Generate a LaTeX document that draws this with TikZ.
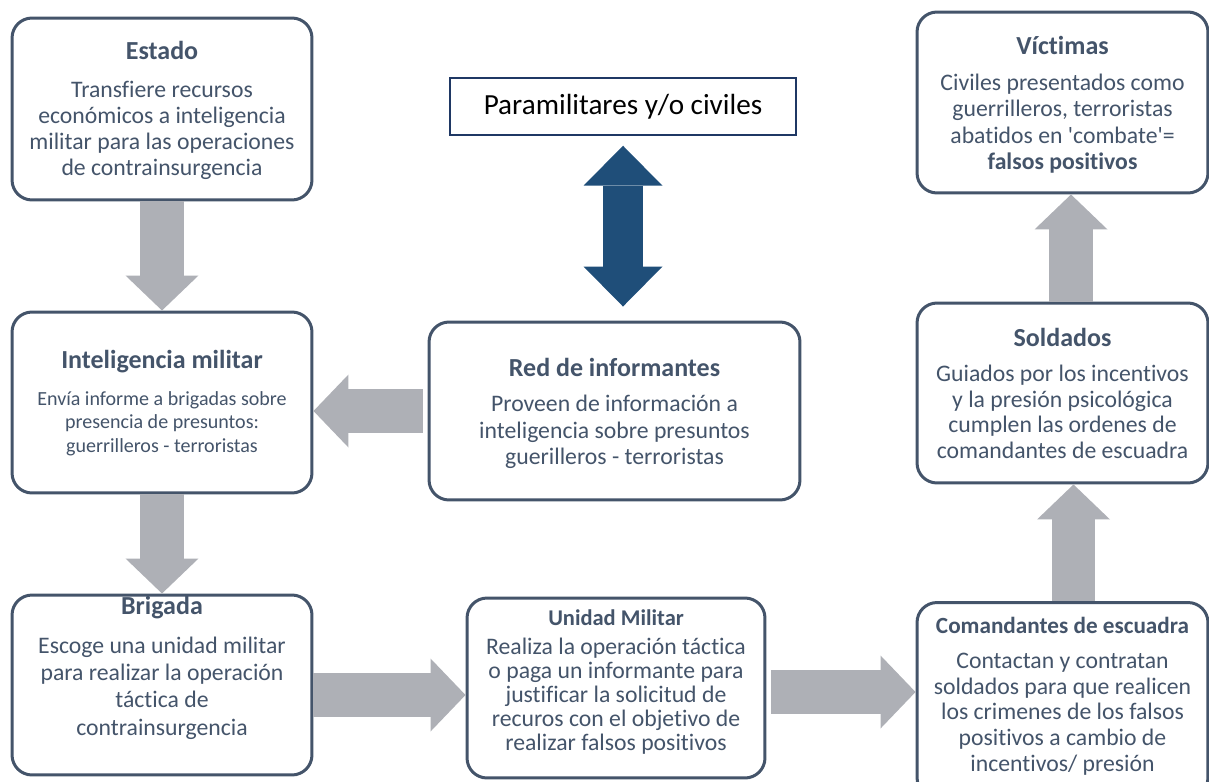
\documentclass[tikz,border=0pt]{standalone}
\usepackage{fontspec}
\setmainfont[Ligatures={NoCommon}]{Carlito}
\usetikzlibrary{arrows.meta}

\definecolor{borde}{HTML}{44546A}
\definecolor{grisflecha}{HTML}{AEB0B6}
\definecolor{azulflecha}{HTML}{1F4E79}
\definecolor{marino}{HTML}{1F3864}

\tikzset{
  caja/.style={draw=borde, line width=0.06cm, rounded corners=0.4cm, fill=white, inner sep=0pt},
  titulo/.style={text=borde, font=\bfseries\fontsize{14.8}{16}\selectfont, inner sep=0pt},
  cuerpo/.style={text=borde, align=center, font=\fontsize{13.5}{14.6}\selectfont, inner sep=0pt},
  flechagris/.style={draw=grisflecha, line width=0.87cm, -{Triangle[width=1.46cm,length=0.7cm,line width=0pt]}},
}

\begin{document}
\begin{tikzpicture}[x=0.02cm,y=-0.02cm]
    \clip (0,0) rectangle (1209,781);

    % Cajas
    \node[caja, minimum width=6cm, minimum height=3.64cm] (estado) at (162,109) {};
    \node[caja, minimum width=6cm, minimum height=3.62cm] (intel) at (162,402.5) {};
    \node[caja, minimum width=6cm, minimum height=3.6cm] (brigada) at (162,685) {};
    \node[caja, minimum width=7.42cm, minimum height=3.56cm] (red) at (614.5,411) {};
    \node[caja, minimum width=5.96cm, minimum height=3.6cm] (unidad) at (616,688) {};
    \node[caja, minimum width=5.82cm, minimum height=3.62cm] (victimas) at (1062.5,102.5) {};
    \node[caja, minimum width=5.82cm, minimum height=3.6cm] (soldados) at (1062.5,393) {};
    \node[caja, minimum width=5.82cm, minimum height=3.9cm] (com) at (1062.5,700) {};

    % Paramilitares
    \node[draw=marino, line width=0.03cm, minimum width=6.92cm, minimum height=1.14cm,
          font=\fontsize{16.6}{20}\selectfont] (para) at (623,106.5) {Paramilitares y/o civiles};

    % Textos
    \node[titulo] (estadoT) at (162,50) {Estado};
    \node[cuerpo, font=\fontsize{13.5}{14.8}\selectfont] (estadoC) at (162,130.5) {Transfiere recursos\\económicos a inteligencia\\militar para las operaciones\\de contrainsurgencia};

    \node[titulo] (intelT) at (162,362) {Inteligencia militar};
    \node[cuerpo, font=\fontsize{11.4}{13.3}\selectfont] (intelC) at (162,423.5) {Envía informe a brigadas sobre\\presencia de presuntos:\\guerrilleros - terroristas};

    \node[titulo] (brigadaT) at (162,608) {Brigada};
    \node[cuerpo, font=\fontsize{13.5}{15.6}\selectfont] (brigadaC) at (162,688) {Escoge una unidad militar\\para realizar la operación\\táctica de\\contrainsurgencia};

    \node[titulo] (redT) at (614.5,367) {Red de informantes};
    \node[cuerpo, font=\fontsize{13.5}{15}\selectfont] (redC) at (614.5,432) {Proveen de información a\\inteligencia sobre presuntos\\guerilleros - terroristas};

    \node[titulo, font=\bfseries\fontsize{12.8}{15}\selectfont] (unidadT) at (616,618) {Unidad Militar};
    \node[cuerpo, font=\fontsize{13.5}{13.7}\selectfont] (unidadC) at (616,696) {Realiza la operación táctica\\o paga un informante para\\justificar la solicitud de\\recuros con el objetivo de\\realizar falsos positivos};

    \node[titulo] (victimasT) at (1062.5,45) {Víctimas};
    \node[cuerpo, font=\fontsize{13.5}{15.1}\selectfont] (victimasC) at (1062.5,123.5) {Civiles presentados como\\guerrilleros, terroristas\\abatidos en \textquotesingle combate\textquotesingle=\\\textbf{falsos positivos}};

    \node[titulo] (soldadosT) at (1062.5,337) {Soldados};
    \node[cuerpo] (soldadosC) at (1062.5,412) {Guiados por los incentivos\\y la presión psicológica\\cumplen las ordenes de\\comandantes de escuadra};

    \node[titulo, font=\bfseries\fontsize{13.2}{15}\selectfont] (comT) at (1062.5,625) {Comandantes de escuadra};
    \node[cuerpo] (comC) at (1062.5,714) {Contactan y contratan\\soldados para que realicen\\los crimenes de los falsos\\positivos a cambio de\\incentivos/ presión};

    % Flechas grises
    \draw[flechagris] (estado.south) -- (intel.north);
    \draw[flechagris] (intel.south) -- (brigada.north);
    \draw[flechagris, shorten <=0.1cm] (red.west) -- (intel.east |- red.west);

    \coordinate (b1) at ([yshift=-0.2cm]brigada.east);
    \draw[flechagris] (b1) -- (b1 -| unidad.west);
    \coordinate (u1) at ([yshift=-0.08cm]unidad.east);
    \draw[flechagris, shorten <=0.1cm] (u1) -- (u1 -| com.west);

    \coordinate (c1) at ([xshift=0.22cm]com.north);
    \draw[flechagris] (c1) -- (c1 |- soldados.south);
    \coordinate (s1) at ([xshift=0.17cm]soldados.north);
    \draw[flechagris] (s1) -- (s1 |- victimas.south);

    % Flecha azul doble
    \draw[draw=azulflecha, line width=0.8cm, shorten <=0.2cm, shorten >=0.28cm,
          {Triangle[width=1.58cm,length=0.8cm,line width=0pt]}-{Triangle[width=1.58cm,length=0.8cm,line width=0pt]}]
          (para.south) -- (para.south |- red.north);
\end{tikzpicture}
\end{document}
